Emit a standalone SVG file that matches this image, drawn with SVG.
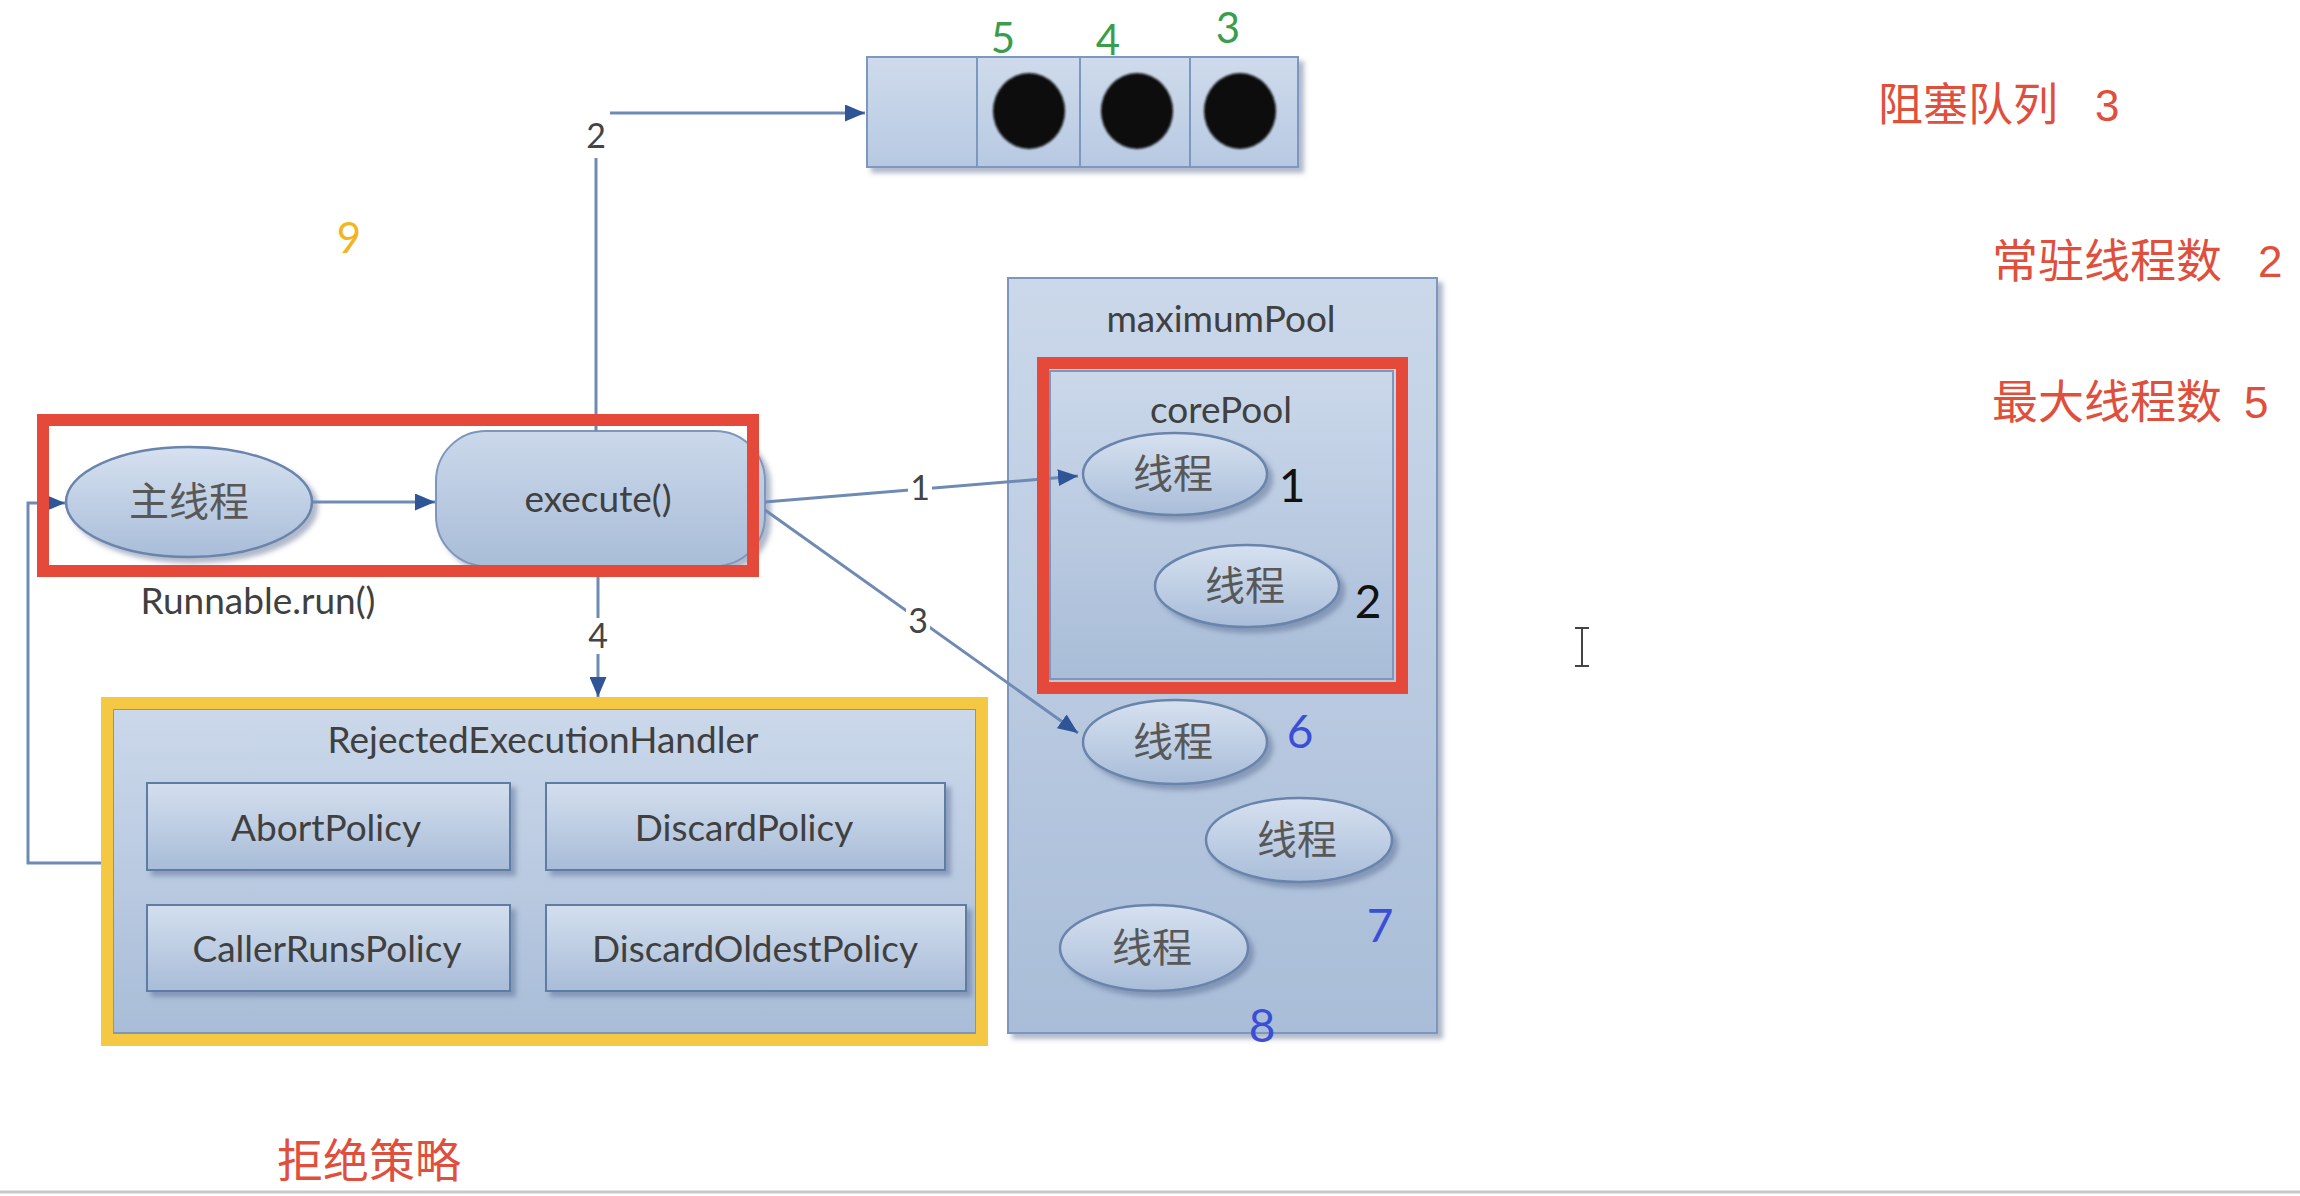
<svg xmlns="http://www.w3.org/2000/svg" width="2300" height="1196" viewBox="0 0 2300 1196">
<defs>
<style>
.lbl{font-family:Lato,"Liberation Sans",sans-serif;font-size:37px;fill:#404040;text-anchor:middle}
.cjk{font-family:"Noto Sans CJK SC",sans-serif;font-size:40px;fill:#585858;text-anchor:middle}
.conn{fill:none;stroke:#6f8ab3;stroke-width:3}
.clbl{font-family:Lato,"Liberation Sans",sans-serif;font-size:34px;fill:#444;text-anchor:middle}
.lblbg{fill:#ffffff}
.red{fill:none;stroke:#e5493a;stroke-width:12}
.box{fill:url(#gBox);stroke:#7d96bb;stroke-width:2}
.btn{fill:url(#gBtn);stroke:#5f7ba5;stroke-width:2}
.ell{fill:url(#gEll);stroke:#6a84ab;stroke-width:2.5}
.note{font-family:"Noto Sans CJK SC",sans-serif;font-size:45px;fill:#e04f3b}
.num{font-family:Lato,"Liberation Sans",sans-serif;font-size:46px;text-anchor:middle}
</style>
<linearGradient id="gBox" x1="0" y1="0" x2="0" y2="1">
<stop offset="0" stop-color="#cbd8ea"/><stop offset="1" stop-color="#a9bdd8"/>
</linearGradient>
<linearGradient id="gBtn" x1="0" y1="0" x2="0" y2="1">
<stop offset="0" stop-color="#d3dfee"/><stop offset="1" stop-color="#a8bcd8"/>
</linearGradient>
<linearGradient id="gEll" x1="0" y1="0" x2="0" y2="1">
<stop offset="0" stop-color="#d6e1f0"/><stop offset="1" stop-color="#a9bdd9"/>
</linearGradient>
<linearGradient id="gQ" x1="0" y1="0" x2="0" y2="1">
<stop offset="0" stop-color="#cfdbec"/><stop offset="1" stop-color="#b7c9e2"/>
</linearGradient>
<filter id="sh" x="-10%" y="-10%" width="125%" height="125%">
<feDropShadow dx="5" dy="5" stdDeviation="2.5" flood-color="#4d6389" flood-opacity="0.45"/>
</filter>
<filter id="soft" x="-10%" y="-10%" width="120%" height="120%">
<feGaussianBlur stdDeviation="1.2"/>
</filter>
<marker id="ah" viewBox="0 0 10 10" refX="10" refY="5" markerWidth="20" markerHeight="17" markerUnits="userSpaceOnUse" orient="auto" preserveAspectRatio="none">
<path d="M0,0 L10,5 L0,10 z" fill="#2f5597"/>
</marker>
</defs>

<rect x="0" y="0" width="2300" height="1196" fill="#ffffff"/>

<g id="maximumPool">
<rect class="box" x="1008" y="278" width="429" height="755" filter="url(#sh)"/>
<text class="lbl" x="1221" y="332">maximumPool</text>
</g>

<g id="corePool">
<rect class="box" x="1050" y="371" width="343" height="308"/>
<text class="lbl" x="1221" y="423">corePool</text>
</g>

<g id="thread1">
<ellipse class="ell" cx="1175" cy="474" rx="92" ry="41" filter="url(#sh)"/>
<text class="cjk" x="1173" y="488">线程</text>
<text class="num" x="1292" y="502" fill="#111111">1</text>
</g>
<g id="thread2">
<ellipse class="ell" cx="1247" cy="586" rx="92" ry="41" filter="url(#sh)"/>
<text class="cjk" x="1245" y="600">线程</text>
<text class="num" x="1368" y="618" fill="#111111">2</text>
</g>
<g id="thread6">
<ellipse class="ell" cx="1175" cy="742" rx="92" ry="42" filter="url(#sh)"/>
<text class="cjk" x="1173" y="756">线程</text>
<text class="num" x="1300" y="748" fill="#3b4fd6">6</text>
</g>
<g id="thread7">
<ellipse class="ell" cx="1299" cy="840" rx="93" ry="42" filter="url(#sh)"/>
<text class="cjk" x="1297" y="854">线程</text>
<text class="num" x="1380" y="942" fill="#3b4fd6">7</text>
</g>
<g id="thread8">
<ellipse class="ell" cx="1154" cy="948" rx="94" ry="43" filter="url(#sh)"/>
<text class="cjk" x="1152" y="962">线程</text>
<text class="num" x="1262" y="1042" fill="#3b4fd6">8</text>
</g>

<g id="queue">
<rect x="867" y="57" width="431" height="110" fill="url(#gQ)" stroke="#7d98c0" stroke-width="2" filter="url(#sh)"/>
<line x1="977" y1="57" x2="977" y2="167" stroke="#7d98c0" stroke-width="2"/>
<line x1="1080" y1="57" x2="1080" y2="167" stroke="#7d98c0" stroke-width="2"/>
<line x1="1190" y1="57" x2="1190" y2="167" stroke="#7d98c0" stroke-width="2"/>
<g filter="url(#soft)">
<ellipse cx="1029" cy="111" rx="36" ry="38" fill="#0b0b0b"/>
<ellipse cx="1137" cy="111" rx="36" ry="38" fill="#0b0b0b"/>
<ellipse cx="1240" cy="111" rx="36" ry="38" fill="#0b0b0b"/>
</g>
<text class="num" x="1003" y="53" fill="#3a9d4c" style="font-size:42px">5</text>
<text class="num" x="1108" y="55" fill="#3a9d4c" style="font-size:42px">4</text>
<text class="num" x="1228" y="43" fill="#3a9d4c" style="font-size:42px">3</text>
</g>

<g id="mainThread">
<ellipse class="ell" cx="189" cy="502" rx="123" ry="55" filter="url(#sh)"/>
<text class="cjk" x="189" y="516">主线程</text>
</g>

<g id="execute">
<rect class="box" x="436" y="431" width="329" height="135" rx="50" ry="50" filter="url(#sh)"/>
<text class="lbl" x="598" y="512">execute()</text>
</g>

<text class="lbl" x="258" y="614">Runnable.run()</text>

<g id="rejectedHandler">
<rect class="box" x="113" y="709" width="863" height="324" filter="url(#sh)"/>
<text class="lbl" x="543" y="753">RejectedExecutionHandler</text>
<g id="abortPolicy">
<rect class="btn" x="147" y="783" width="363" height="87" filter="url(#sh)"/>
<text class="lbl" x="326" y="841">AbortPolicy</text>
</g>
<g id="discardPolicy">
<rect class="btn" x="546" y="783" width="399" height="87" filter="url(#sh)"/>
<text class="lbl" x="744" y="841">DiscardPolicy</text>
</g>
<g id="callerRunsPolicy">
<rect class="btn" x="147" y="905" width="363" height="86" filter="url(#sh)"/>
<text class="lbl" x="327" y="962">CallerRunsPolicy</text>
</g>
<g id="discardOldestPolicy">
<rect class="btn" x="546" y="905" width="420" height="86" filter="url(#sh)"/>
<text class="lbl" x="755" y="962">DiscardOldestPolicy</text>
</g>
</g>

<g id="connectors">
<path class="conn" d="M596,431 V113 H865" marker-end="url(#ah)"/>
<path class="conn" d="M313,502 H435" marker-end="url(#ah)"/>
<path class="conn" d="M765,502 L1078,476" marker-end="url(#ah)"/>
<path class="conn" d="M765,510 L1078,733" marker-end="url(#ah)"/>
<path class="conn" d="M598,572 V697" marker-end="url(#ah)"/>
<path class="conn" d="M107,863 H28 V503 H65" marker-end="url(#ah)"/>
<rect class="lblbg" x="582" y="108" width="28" height="50"/>
<text class="clbl" x="596" y="148">2</text>
<rect class="lblbg" x="908" y="472" width="24" height="34"/>
<text class="clbl" x="920" y="500">1</text>
<rect class="lblbg" x="906" y="603" width="24" height="36"/>
<text class="clbl" x="918" y="633">3</text>
<rect class="lblbg" x="585" y="618" width="26" height="36"/>
<text class="clbl" x="598" y="648">4</text>
</g>

<g id="highlights">
<rect class="red" x="43" y="420" width="710" height="151"/>
<rect class="red" x="1043" y="363" width="359" height="325"/>
<rect x="107" y="703" width="875" height="337" fill="none" stroke="#f4c842" stroke-width="12"/>
</g>

<g id="annotations">
<text class="num" x="349" y="253" fill="#f2b51f" style="font-size:42px">9</text>
<text class="note" x="1878" y="121">阻塞队列<tspan x="2095" style="font-family:'Liberation Sans',sans-serif;font-size:44px">3</tspan></text>
<text class="note" x="1992" y="277" style="font-size:46px">常驻线程数<tspan x="2258" style="font-family:'Liberation Sans',sans-serif;font-size:44px">2</tspan></text>
<text class="note" x="1992" y="418" style="font-size:46px">最大线程数<tspan x="2244" style="font-family:'Liberation Sans',sans-serif;font-size:44px">5</tspan></text>
<text class="note" x="277" y="1177" style="font-size:46px">拒绝策略</text>
</g>

<path d="M1575,628 H1589 M1582,628 V666 M1575,666 H1589" fill="none" stroke="#444" stroke-width="2"/>
<line x1="0" y1="1192" x2="2300" y2="1192" stroke="#c8c8c8" stroke-width="3"/>
</svg>
